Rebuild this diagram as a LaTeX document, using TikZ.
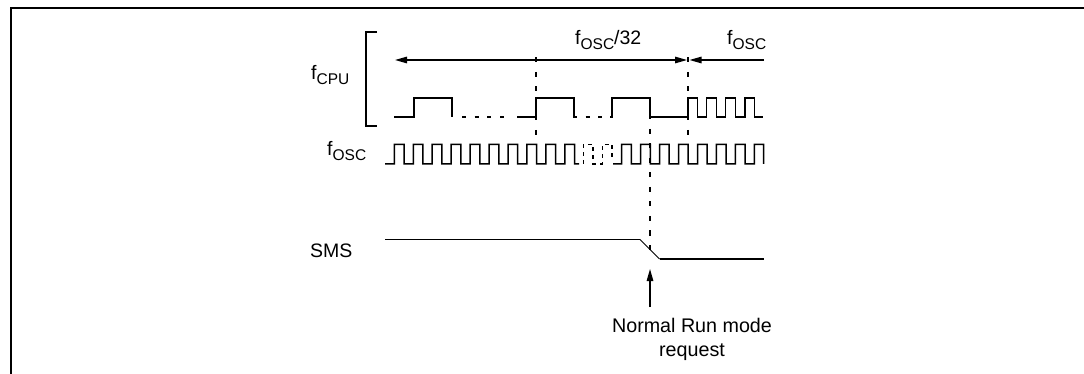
\documentclass[tikz,border=0pt]{standalone}
\usepackage{fontspec}
\setmainfont{Liberation Sans}
\usetikzlibrary{arrows.meta}
\newcommand{\subt}[1]{\raisebox{-4.5pt}{\fontsize{15.5}{18}\selectfont #1}}
\tikzset{
  wave/.style={line width=1.5pt,line join=miter,line cap=butt},
  thinwave/.style={line width=0.8pt},
  frameline/.style={line width=2pt},
  dashv/.style={line width=1.3pt,dash pattern=on 5pt off 9.5pt},
  dotw/.style={line width=1.3pt,dash pattern=on 4pt off 8.7pt},
  dotp/.style={line width=1.3pt,dash pattern=on 4pt off 4pt},
  label/.style={font=\fontsize{19.5}{23}\selectfont,inner sep=0pt,anchor=base west},
  tipboth/.style={{Triangle[length=12pt,width=6.5pt]}-{Triangle[length=12pt,width=6.5pt]},line width=1.3pt},
  tipl/.style={-{Triangle[length=12pt,width=6.5pt]},line width=1.3pt}
}
\begin{document}
\begin{tikzpicture}[x=1pt,y=-1pt]
\useasboundingbox (0,0) rectangle (1084,374);
% frame
\draw[frameline] (1084,8) -- (10.5,8) -- (10.5,374);
% bracket
\draw[wave] (377,32) -- (366,32) -- (366,126) -- (377,126);
% labels
\node[label] (lcpu) at (311,80) {f\subt{CPU}};
\node[label] (losc) at (327,156) {f\subt{OSC}};
\node[label] (lsms) at (310,257) {SMS};
\node[label] (l32) at (575,45) {f\subt{OSC}/32};
\node[label] (lo2) at (727,45) {f\subt{OSC}};
\node[font=\fontsize{19.7}{24}\selectfont,align=center,inner sep=0pt,anchor=base] (req) at (692,356) {Normal Run mode\\request};
% coordinates
\coordinate (al) at (395,60);
\coordinate (am) at (687,60);
\coordinate (ar) at (764,60);
\coordinate (am2) at (689.5,60);
\coordinate (d1t) at (536,57.5);
\coordinate (d1b) at (536,137);
\coordinate (d2t) at (688,57.5);
\coordinate (d2b) at (688,137);
\coordinate (d3t) at (650,114.5);
\coordinate (d3b) at (650,251);
\coordinate (upb) at (650,307);
\coordinate (upt) at (650,269);
% arrows
\draw[tipboth] (al) -- (am);
\draw[tipl] (ar) -- (am2);
\draw[tipl] (upb) -- (upt);
% dashed guides
\draw[dashv] (d1t) -- (d1b);
\draw[dashv] (d2t) -- (d2b);
\draw[dashv] (d3t) -- (d3b);
% fCPU waveform
\draw[wave] (394,117) -- (414,117) -- (414,98) -- (452,98) -- (452,117);
\draw[dotw] (462,117) -- (504,117);
\draw[wave] (517,117) -- (536,117) -- (536,98) -- (574,98) -- (574,117) -- (577,117);
\draw[dotw] (585.5,117) -- (604,117);
\draw[wave] (610,117) -- (612,117) -- (612,98) -- (650,98) -- (650,117) -- (688,117) -- (688,98)
  -- (697.7,98) -- (697.7,117) -- (706.7,117) -- (706.7,98) -- (716.7,98) -- (716.7,117)
  -- (725.7,117) -- (725.7,98) -- (735.7,98) -- (735.7,117) -- (745,117) -- (745,98)
  -- (754.3,98) -- (754.3,117) -- (763,117);
% fOSC waveform
\draw[wave] (385,164) -- (394.3,164)
  foreach \k in {0,...,8} { -- ({394.3+18.95*\k},144.5) -- ({404+18.95*\k},144.5) -- ({404+18.95*\k},164) -- ({413.25+18.95*\k},164) }
  -- (564.9,144.5) -- (574.5,144.5) -- (574.5,164) -- (579,164);
\draw[dotp] (583.4,164) -- (583.4,144.5) -- (593,144.5) -- (593,164) -- (602.4,164) -- (602.4,144.5) -- (612,144.5) -- (612,160);
\draw[wave] (613,164) -- (621.7,164)
  foreach \k in {0,...,6} { -- ({621.7+18.95*\k},144.5) -- ({631.3+18.95*\k},144.5) -- ({631.3+18.95*\k},164) -- ({640.65+18.95*\k},164) }
  -- (754.4,144.5) -- (763.5,144.5) -- (763.5,164);
% SMS waveform
\draw[thinwave] (385,239.5) -- (640,239.5) -- (659.5,259);
\draw[wave] (659.5,259) -- (764,259);
\end{tikzpicture}
\end{document}
